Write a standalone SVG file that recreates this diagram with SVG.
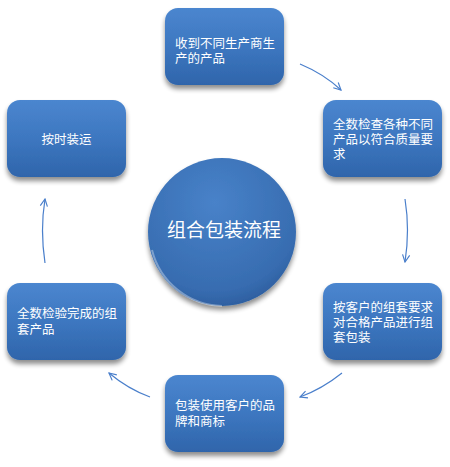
<svg xmlns="http://www.w3.org/2000/svg" width="450" height="467" viewBox="0 0 450 467">
<defs>
<linearGradient id="bg" x1="0" y1="0" x2="0" y2="1">
<stop offset="0" stop-color="#4b86cf"/>
<stop offset="0.5" stop-color="#3d77c0"/>
<stop offset="1" stop-color="#2f65ab"/>
</linearGradient>
<radialGradient id="cg" cx="0.45" cy="0.3" r="0.75">
<stop offset="0" stop-color="#4882c9"/>
<stop offset="0.8" stop-color="#376cb0"/>
<stop offset="1" stop-color="#2a5a9a"/>
</radialGradient>
<filter id="sh" x="-20%" y="-20%" width="140%" height="150%">
<feGaussianBlur in="SourceAlpha" stdDeviation="2.5"/>
<feOffset dx="0" dy="4" result="b"/>
<feComponentTransfer><feFuncA type="linear" slope="0.45"/></feComponentTransfer>
<feMerge><feMergeNode/><feMergeNode in="SourceGraphic"/></feMerge>
</filter>
<marker id="ah" viewBox="0 0 10 10" refX="9" refY="5" markerWidth="9" markerHeight="9" orient="auto" markerUnits="userSpaceOnUse">
<path d="M1,1 L9,5 L1,9" fill="none" stroke="#4a7fcb" stroke-width="1.3"/>
</marker>
<style>
.box{fill:url(#bg);filter:url(#sh)}
.t{font-family:"Liberation Sans","Noto Sans CJK SC",sans-serif;font-size:12.5px;fill:#ffffff}
.c{fill:none;stroke:#4a7fcb;stroke-width:1.2;marker-end:url(#ah)}
</style>
</defs>
<g id="connectors">
<path class="c" d="M300,64 Q324,74 341,90"/>
<path class="c" d="M405,199 Q410,230 405,262"/>
<path class="c" d="M342,373 Q322,389 300,397"/>
<path class="c" d="M150,397 Q128,389 109,373"/>
<path class="c" d="M45,263 Q40,230 45,199"/>
</g>
<g id="center">
<circle cx="222" cy="232" r="74" fill="url(#cg)" filter="url(#sh)"/>
<path d="M152,250 A74,74 0 0 0 222,306" fill="none" stroke="#ffffff" stroke-opacity="0.35" stroke-width="2"/>
<text x="224" y="237" text-anchor="middle" font-family="Liberation Sans, Noto Sans CJK SC, sans-serif" font-size="19" fill="#ffffff">组合包装流程</text>
</g>
<g id="n1">
<rect class="box" x="165" y="8" width="119" height="77" rx="13"/>
<text class="t" x="175" y="48">收到不同生产商生</text>
<text class="t" x="175" y="63">产的产品</text>
</g>
<g id="n2">
<rect class="box" x="323" y="100" width="119" height="77" rx="13"/>
<text class="t" x="333" y="129">全数检查各种不同</text>
<text class="t" x="333" y="144">产品以符合质量要</text>
<text class="t" x="333" y="159">求</text>
</g>
<g id="n3">
<rect class="box" x="323" y="283" width="119" height="77" rx="13"/>
<text class="t" x="333" y="312">按客户的组套要求</text>
<text class="t" x="333" y="327">对合格产品进行组</text>
<text class="t" x="333" y="342">套包装</text>
</g>
<g id="n4">
<rect class="box" x="165" y="375" width="119" height="77" rx="13"/>
<text class="t" x="175" y="410">包装使用客户的品</text>
<text class="t" x="175" y="426">牌和商标</text>
</g>
<g id="n5">
<rect class="box" x="7" y="283" width="119" height="77" rx="13"/>
<text class="t" x="17" y="318">全数检验完成的组</text>
<text class="t" x="17" y="334">套产品</text>
</g>
<g id="n6">
<rect class="box" x="7" y="100" width="119" height="77" rx="13"/>
<text class="t" x="66.5" y="144" text-anchor="middle">按时装运</text>
</g>
</svg>
